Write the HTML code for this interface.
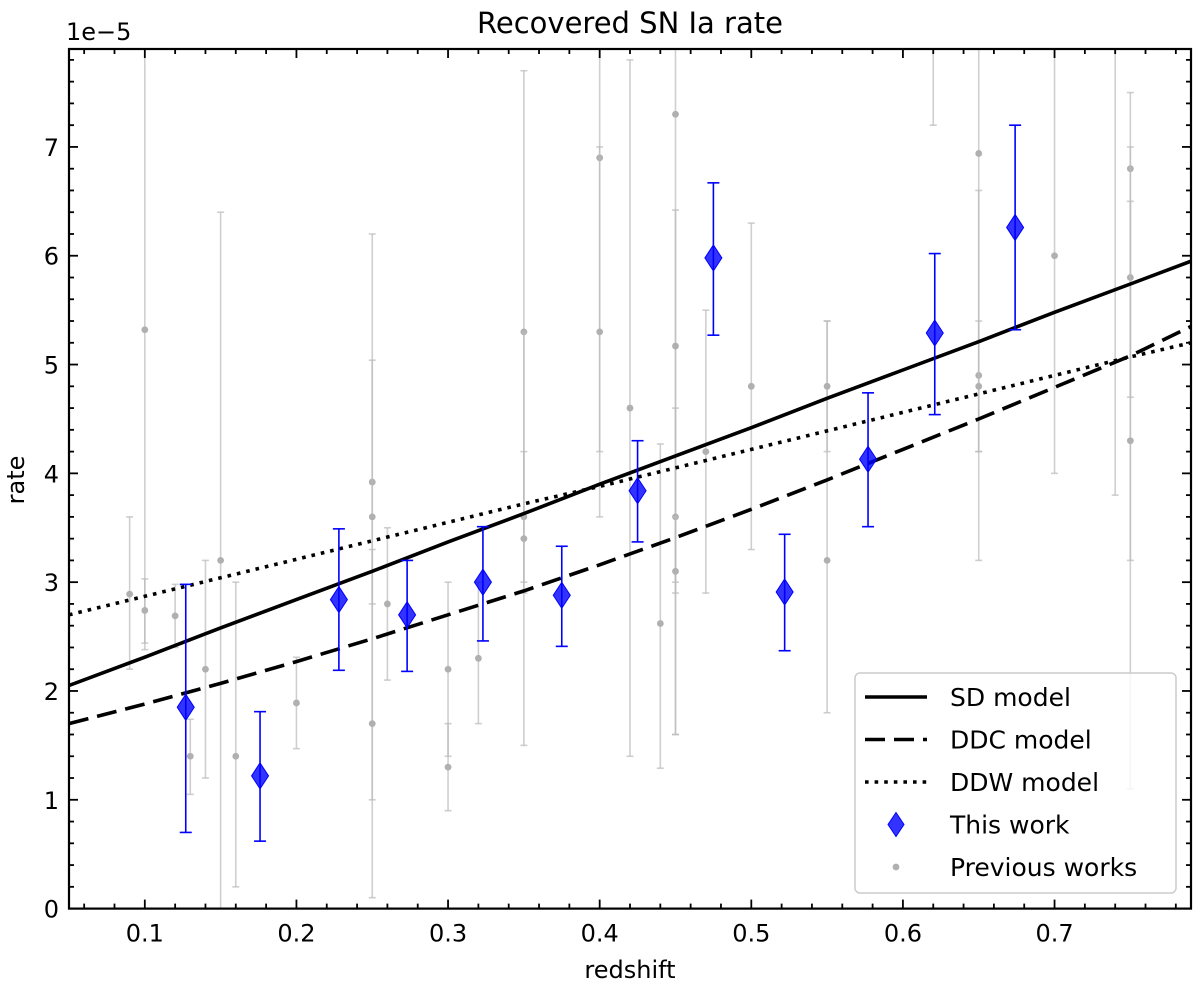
<!DOCTYPE html>
<html><head><meta charset="utf-8"><style>
body{margin:0;background:#fff;}
svg text{font-family:"DejaVu Sans","Liberation Sans",sans-serif;}
</style></head><body>
<svg id="c" width="1200" height="991" viewBox="0 0 1200 991" xmlns="http://www.w3.org/2000/svg"></svg>
<script>
const xTicks=[0.1,0.2,0.3,0.4,0.5,0.6,0.7];
const xTickLabels=["0.1","0.2","0.3","0.4","0.5","0.6","0.7"];
const yTicks=[0,1,2,3,4,5,6,7];
const yTickLabels=["0","1","2","3","4","5","6","7"];
const modelX=[0.05,0.1,0.15,0.2,0.25,0.3,0.35,0.4,0.45,0.5,0.55,0.6,0.65,0.7,0.75,0.79];
const sdY=[2.05,2.31,2.58,2.84,3.1,3.37,3.63,3.9,4.16,4.42,4.69,4.95,5.21,5.48,5.74,5.95];
const ddcY=[1.7,1.88,2.07,2.27,2.48,2.7,2.92,3.16,3.41,3.67,3.94,4.22,4.5,4.79,5.08,5.35];
const ddwY=[2.7,2.87,3.04,3.21,3.38,3.55,3.72,3.88,4.05,4.22,4.39,4.56,4.73,4.9,5.07,5.2];
const thisX=[0.127,0.176,0.228,0.273,0.323,0.375,0.425,0.475,0.522,0.577,0.621,0.674];
const thisY=[1.85,1.22,2.84,2.70,3.00,2.88,3.84,5.98,2.91,4.13,5.29,6.26];
const thisLo=[0.70,0.62,2.19,2.18,2.46,2.41,3.37,5.27,2.37,3.51,4.54,5.32];
const thisHi=[2.98,1.81,3.49,3.20,3.51,3.33,4.30,6.67,3.44,4.74,6.02,7.20];
const prevX=[0.09,0.10,0.10,0.12,0.13,0.14,0.15,0.16,0.20,0.25,0.25,0.25,0.26,0.30,0.30,0.32,0.35,0.35,0.35,0.40,0.40,0.42,0.44,0.45,0.45,0.45,0.45,0.47,0.50,0.55,0.55,0.62,0.65,0.65,0.65,0.70,0.74,0.75,0.75,0.75];
const prevY=[2.89,5.32,2.74,2.69,1.40,2.20,3.20,1.40,1.89,3.92,3.60,1.70,2.80,2.20,1.30,2.30,5.30,3.60,3.40,6.90,5.30,4.60,2.62,7.30,5.17,3.60,3.10,4.20,4.80,3.20,4.80,8.6,6.94,4.90,4.80,6.00,8.6,6.80,5.80,4.30];
const prevLo=[2.20,2.38,2.44,2.40,1.05,1.20,0.00,0.20,1.47,2.80,0.10,1.00,2.10,1.40,0.90,1.70,1.50,3.00,2.90,4.20,3.60,1.40,1.29,1.60,3.00,2.90,1.60,2.90,3.30,1.80,4.20,7.20,4.20,3.20,4.20,4.00,3.80,1.10,4.70,3.20];
const prevHi=[3.60,9.00,3.03,2.98,1.74,3.20,6.40,3.00,2.31,6.20,5.04,3.30,3.50,3.00,1.70,3.00,7.70,4.20,5.30,9.00,7.00,7.80,4.27,9.00,6.42,4.60,3.60,5.50,6.30,5.40,5.40,9.00,9.00,6.60,5.40,9.00,9.00,7.50,6.50,7.00];

const L=69,R=1191,T=49,B=908.6,X0=0.05,X1=0.79,Y0=0,Y1=7.9;
const sx=v=>L+(v-X0)/(X1-X0)*(R-L);
const sy=v=>B-(v-Y0)/(Y1-Y0)*(B-T);
const svg=document.getElementById('c');
const NS='http://www.w3.org/2000/svg';
function mk(tag,attrs,parent){const e=document.createElementNS(NS,tag);for(const k in attrs)e.setAttribute(k,attrs[k]);(parent||svg).appendChild(e);return e;}
const defs=mk('defs',{});const cp=mk('clipPath',{id:'clip'},defs);mk('rect',{x:L,y:T,width:R-L,height:B-T},cp);
const plot=mk('g',{'clip-path':'url(#clip)'});



const pg=mk('g',{},plot);


for(let i=0;i<prevX.length;i++){
  const x=sx(prevX[i]);
  const g=mk('g',{stroke:'#bbb','stroke-opacity':'0.7','stroke-width':'1.6'},pg);
  
  
  mk('line',{x1:x,x2:x,y1:sy(prevLo[i]),y2:sy(prevHi[i])},g);
  mk('line',{x1:x-3.5,x2:x+3.5,y1:sy(prevLo[i]),y2:sy(prevLo[i])},g);
  mk('line',{x1:x-3.5,x2:x+3.5,y1:sy(prevHi[i]),y2:sy(prevHi[i])},g);
  mk('circle',{cx:x,cy:sy(prevY[i]),r:3.4,fill:'#b0b0b0',stroke:'none'},g);
}
function path(ys){return modelX.map((v,i)=>(i?'L':'M')+sx(v).toFixed(1)+','+sy(ys[i]).toFixed(1)).join(' ');}
let m=mk('path',{d:path(sdY),fill:'none',stroke:'#000','stroke-width':3.6},plot);

m=mk('path',{d:path(ddcY),fill:'none',stroke:'#000','stroke-width':3.6,'stroke-dasharray':'20,9'},plot);

m=mk('path',{d:path(ddwY),fill:'none',stroke:'#000','stroke-width':3.6,'stroke-dasharray':'3.6,6'},plot);

const tg=mk('g',{},plot);


for(let i=0;i<thisX.length;i++){
  const x=sx(thisX[i]),y=sy(thisY[i]);
  const g=mk('g',{stroke:'#0000ff','stroke-width':1.6},tg);
  
  
  mk('line',{x1:x,x2:x,y1:sy(thisLo[i]),y2:sy(thisHi[i])},g);
  mk('line',{x1:x-6,x2:x+6,y1:sy(thisLo[i]),y2:sy(thisLo[i])},g);
  mk('line',{x1:x-6,x2:x+6,y1:sy(thisHi[i]),y2:sy(thisHi[i])},g);
  mk('path',{d:`M${x},${y-13} L${x+8.5},${y} L${x},${y+13} L${x-8.5},${y} Z`,fill:'#0000ff','fill-opacity':'0.8',stroke:'#0000ff','stroke-width':1},g);
}
let f=mk('rect',{x:L,y:T,width:R-L,height:B-T,fill:'none',stroke:'#000','stroke-width':2.2});

const tk=mk('g',{stroke:'#000','stroke-width':1.8});

for(let v=0.06;v<0.7901;v+=0.02){const x=sx(v);const maj=Math.abs(Math.round(v*10)-v*10)<1e-6;const l=maj?9:5;
  mk('line',{x1:x,x2:x,y1:B,y2:B-l},tk);mk('line',{x1:x,x2:x,y1:T,y2:T+l},tk);}
for(let v=0.2;v<7.9;v+=0.2){const y=sy(v);const maj=Math.abs(Math.round(v)-v)<1e-6;const l=maj?9:5;
  mk('line',{x1:L,x2:L+l,y1:y,y2:y},tk);mk('line',{x1:R,x2:R-l,y1:y,y2:y},tk);}
xTicks.forEach((v,i)=>{const t=mk('text',{x:sx(v),y:B+33,'text-anchor':'middle','font-size':24});t.textContent=xTickLabels[i];
  });
yTicks.forEach((v,i)=>{const t=mk('text',{x:L-10,y:sy(v)+9,'text-anchor':'end','font-size':24});t.textContent=yTickLabels[i];
  });
</script>
<script>
(function(){
const svg=document.getElementById('c');const NS='http://www.w3.org/2000/svg';
function mk(tag,attrs,parent){const e=document.createElementNS(NS,tag);for(const k in attrs)e.setAttribute(k,attrs[k]);(parent||svg).appendChild(e);return e;}
let t=mk('text',{x:630,y:33,'text-anchor':'middle','font-size':29});t.textContent='Recovered SN Ia rate';

t=mk('text',{x:66,y:40,'font-size':24});t.textContent='1e\u22125';

t=mk('text',{x:630,y:978,'text-anchor':'middle','font-size':24});t.textContent='redshift';

t=mk('text',{x:24,y:480,'text-anchor':'middle','font-size':24,transform:'rotate(-90 24 480)'});t.textContent='rate';

const lg=mk('g',{});
mk('rect',{x:855,y:673,width:321,height:220,rx:5,fill:'#fff','fill-opacity':'0.8',stroke:'#ccc','stroke-width':1.5},lg);
const items=[['SD model','none'],['DDC model','20,9'],['DDW model','3.6,6'],['This work','d'],['Previous works','c']];
items.forEach((it,i)=>{const y=697+i*42.5;
  const g=mk('g',{},lg);
  if(it[1]==='d'){mk('path',{d:`M896,${y-12} L904,${y} L896,${y+12} L888,${y} Z`,fill:'#0000ff','fill-opacity':'0.8',stroke:'#0000ff'},g);}
  else if(it[1]==='c'){mk('circle',{cx:896,cy:y,r:3.4,fill:'#b0b0b0'},g);}
  else{const a={x1:865,x2:927,y1:y,y2:y,stroke:'#000','stroke-width':3.6};if(it[1]!=='none')a['stroke-dasharray']=it[1];mk('line',a,g);}
  const tx=mk('text',{x:950,y:y+9,'font-size':25},g);tx.textContent=it[0];});
})();
</script>
</body></html>
